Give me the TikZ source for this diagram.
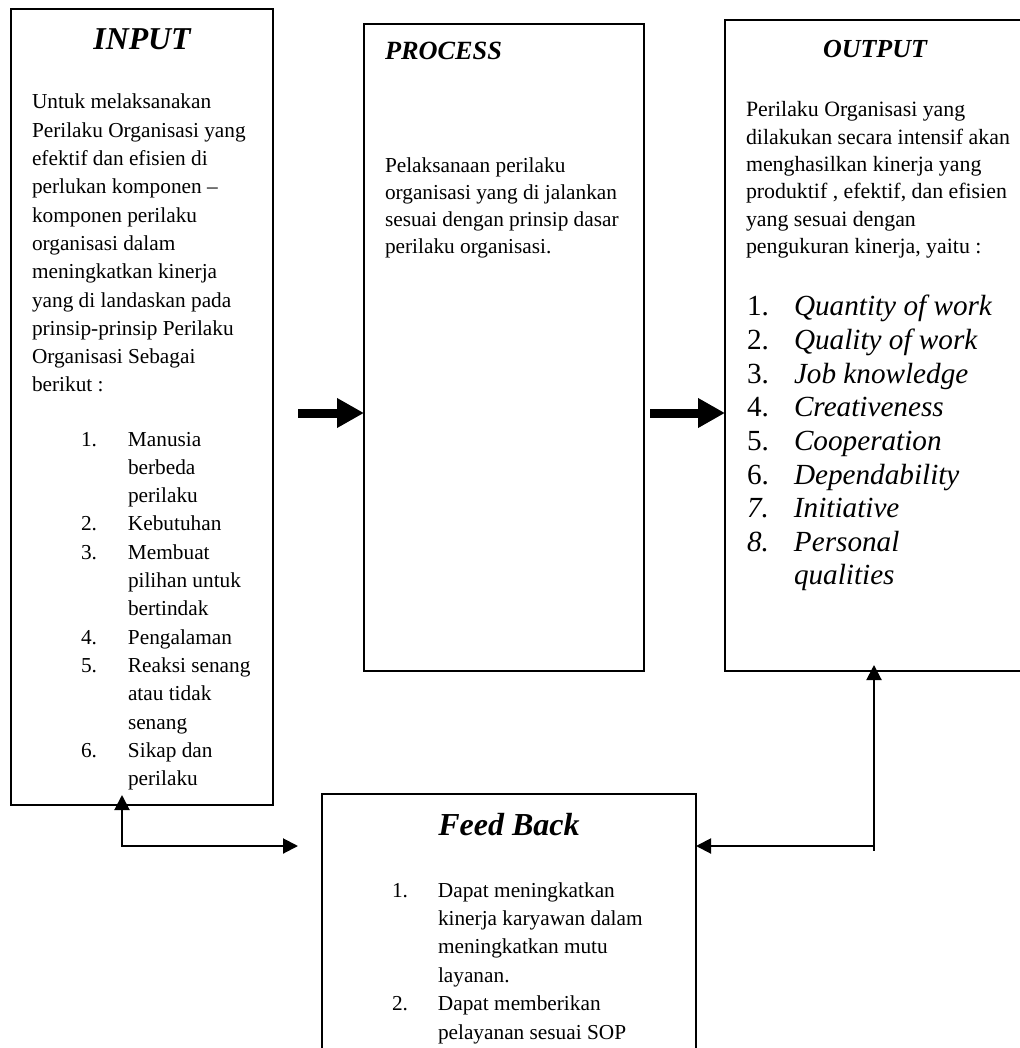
\documentclass[tikz,border=0pt]{standalone}
\usepackage{fontspec}
\setmainfont{Liberation Serif}
\usetikzlibrary{arrows.meta}
\newcommand\dgBody{\fontsize{21.3pt}{28.3pt}\selectfont}
\newcommand\dgProc{\fontsize{21.3pt}{27pt}\selectfont}
\newcommand\dgOutBody{\fontsize{21.85pt}{27.3pt}\selectfont}
\newcommand\dgOutList{\fontsize{29.2pt}{33.6pt}\selectfont}
\newcommand\dgFb{\fontsize{21.3pt}{28.4pt}\selectfont}
\newcommand\dgNum[1]{\makebox[47pt][l]{#1}}
\newcommand\dgInd{\hspace*{47pt}}
\begin{document}
\begin{tikzpicture}[x=1pt,y=-1pt,
  panel/.style={draw=black, line width=1.6pt, fill=none, inner sep=0pt, outer sep=0pt, anchor=north west},
  txt/.style={inner sep=0pt, outer sep=0pt, anchor=base west},
  ttl/.style={inner sep=0pt, outer sep=0pt, anchor=base, font=\bfseries\itshape},
  bigarrow/.style={line width=9pt, -{Triangle[length=27pt,width=28pt]}},
  conn/.style={line width=2pt, {Triangle[length=15pt,width=15pt]}-{Triangle[length=15pt,width=15pt]}}
]
\fill[white] (0,0) rectangle (1019,1048);
\useasboundingbox (0,0) rectangle (1019,1048);

% boxes
\node[panel, minimum width=262pt, minimum height=796pt] (input) at (11,9) {};
\node[panel, minimum width=280pt, minimum height=647pt] (process) at (364,24) {};
\node[panel, minimum width=300pt, minimum height=651pt] (output) at (725,20) {};
\node[panel, minimum width=374pt, minimum height=300pt] (fb) at (322,794) {};

% INPUT
\node[ttl, font=\fontsize{31.8pt}{34pt}\selectfont\bfseries\itshape] (inTitle) at (142,50) {INPUT};
\node[txt] (inBody) at (32,109) {\parbox[t]{300pt}{\raggedright\dgBody
Untuk melaksanakan\\
Perilaku Organisasi yang\\
efektif dan efisien di\\
perlukan komponen –\\
komponen perilaku\\
organisasi dalam\\
meningkatkan kinerja\\
yang di landaskan pada\\
prinsip-prinsip Perilaku\\
Organisasi Sebagai\\
berikut :}};
\node[txt] (inList) at (81,446) {\parbox[t]{300pt}{\raggedright\dgBody
\dgNum{1.}Manusia\\
\dgInd berbeda\\
\dgInd perilaku\\
\dgNum{2.}Kebutuhan\\
\dgNum{3.}Membuat\\
\dgInd pilihan untuk\\
\dgInd bertindak\\
\dgNum{4.}Pengalaman\\
\dgNum{5.}Reaksi senang\\
\dgInd atau tidak\\
\dgInd senang\\
\dgNum{6.}Sikap dan\\
\dgInd perilaku}};

% PROCESS
\node[txt, font=\fontsize{26.3pt}{28pt}\selectfont\bfseries\itshape] (procTitle) at (385,60) {PROCESS};
\node[txt] (procBody) at (385,173) {\parbox[t]{300pt}{\raggedright\dgProc
Pelaksanaan perilaku\\
organisasi yang di jalankan\\
sesuai dengan prinsip dasar\\
perilaku organisasi.}};

% OUTPUT
\node[ttl, font=\fontsize{26pt}{28pt}\selectfont\bfseries\itshape] (outTitle) at (875,58) {OUTPUT};
\node[txt] (outBody) at (746,117) {\parbox[t]{300pt}{\raggedright\dgOutBody
Perilaku Organisasi yang\\
dilakukan secara intensif akan\\
menghasilkan kinerja yang\\
produktif , efektif, dan efisien\\
yang sesuai dengan\\
pengukuran kinerja, yaitu :}};
\node[txt] (outList) at (747,316) {\parbox[t]{300pt}{\raggedright\dgOutList
\dgNum{1.}\textit{Quantity of work}\\
\dgNum{2.}\textit{Quality of work}\\
\dgNum{3.}\textit{Job knowledge}\\
\dgNum{4.}\textit{Creativeness}\\
\dgNum{5.}\textit{Cooperation}\\
\dgNum{6.}\textit{Dependability}\\
\dgNum{\textit{7.}}\textit{Initiative}\\
\dgNum{\textit{8.}}\textit{Personal}\\
\dgInd\textit{qualities}}};

% FEED BACK
\node[ttl, font=\fontsize{32pt}{34pt}\selectfont\bfseries\itshape] (fbTitle) at (509,835) {Feed Back};
\node[txt] (fbList) at (392,897) {\parbox[t]{300pt}{\raggedright\dgFb
\makebox[46pt][l]{1.}Dapat meningkatkan\\
\hspace*{46pt}kinerja karyawan dalam\\
\hspace*{46pt}meningkatkan mutu\\
\hspace*{46pt}layanan.\\
\makebox[46pt][l]{2.}Dapat memberikan\\
\hspace*{46pt}pelayanan sesuai SOP}};

% thick arrows
\coordinate (a1) at (298,413);
\coordinate (a2) at (650,413);
\draw[bigarrow] (a1) -- (a1 -| process.west);
\draw[bigarrow] (a2) -- (a2 -| output.west);

% feedback connectors
\coordinate (fbL) at (122,846);
\coordinate (fbLend) at (298,846);
\draw[conn, shorten <=-10pt] (input.south -| fbL) -- (fbL) -- (fbLend);
\coordinate (fbR) at (874,846);
\draw[conn, shorten <=-6pt] (output.south -| fbR) -- (fbR) -- (fbR -| fb.east);
\draw[line width=2pt] (fbR) -- ++(0,5);
\end{tikzpicture}
\end{document}
